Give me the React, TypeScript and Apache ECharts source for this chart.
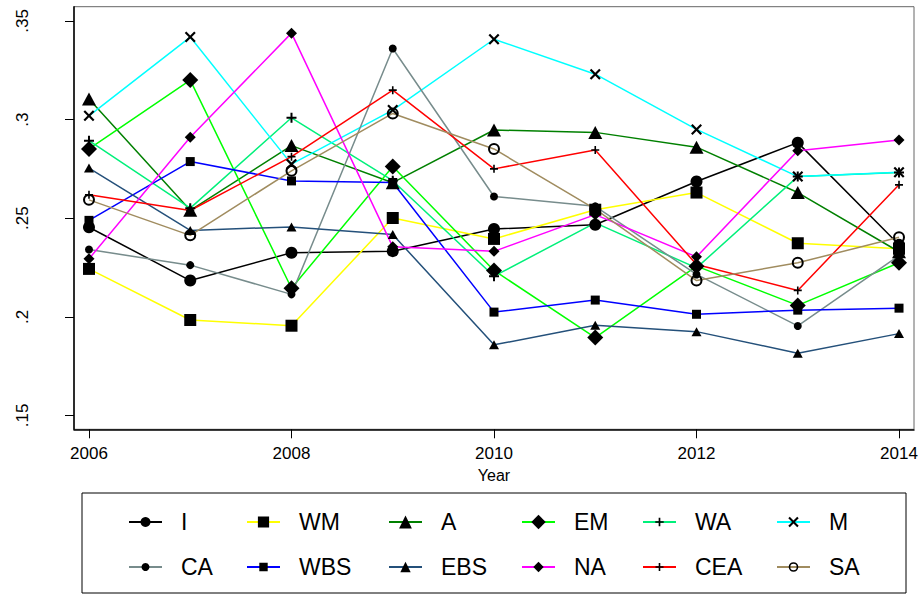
import React, { useEffect, useRef } from 'react';
import * as echarts from 'echarts';

// ---------- data ----------
const years = [2006, 2007, 2008, 2009, 2010, 2011, 2012, 2013, 2014];
const xTickValues = [2006, 2008, 2010, 2012, 2014];
const yTickValues = [0.15, 0.2, 0.25, 0.3, 0.35];
const yTickLabels = ['.15', '.2', '.25', '.3', '.35'];
const xAxisTitle = 'Year';

const seriesNames = ['I', 'WM', 'A', 'EM', 'WA', 'M', 'CA', 'WBS', 'EBS', 'NA', 'CEA', 'SA'];

const valuesI = [0.2454, 0.2184, 0.2325, 0.2333, 0.2445, 0.2467, 0.2686, 0.2883, 0.2365];
const valuesWM = [0.2243, 0.1984, 0.1955, 0.2501, 0.2395, 0.2543, 0.263, 0.2373, 0.2345];
const valuesA = [0.3104, 0.254, 0.2868, 0.268, 0.2947, 0.2935, 0.286, 0.263, 0.233];
const valuesEM = [0.2851, 0.32, 0.2145, 0.2762, 0.2235, 0.1895, 0.2257, 0.2058, 0.2274];
const valuesWA = [0.2893, 0.2551, 0.3009, 0.269, 0.2206, 0.2476, 0.2248, 0.2711, 0.2731];
const valuesM = [0.3019, 0.3418, 0.2774, 0.3048, 0.3407, 0.323, 0.295, 0.2711, 0.2733];
const valuesCA = [0.2341, 0.2262, 0.2114, 0.336, 0.261, 0.256, 0.2215, 0.1954, 0.231];
const valuesWBS = [0.2489, 0.2787, 0.2689, 0.2681, 0.2024, 0.2085, 0.2013, 0.2034, 0.2044];
const valuesEBS = [0.2754, 0.2438, 0.2456, 0.2417, 0.1858, 0.1957, 0.1925, 0.1816, 0.1915];
const valuesNA = [0.2294, 0.291, 0.3438, 0.2355, 0.2332, 0.2518, 0.2304, 0.2842, 0.2896];
const valuesCEA = [0.2619, 0.2539, 0.2812, 0.3149, 0.275, 0.2846, 0.2265, 0.2134, 0.2669];
const valuesSA = [0.2593, 0.2413, 0.274, 0.3031, 0.2851, 0.2546, 0.2184, 0.2274, 0.2403];

const allValues = [
  valuesI, valuesWM, valuesA, valuesEM, valuesWA, valuesM,
  valuesCA, valuesWBS, valuesEBS, valuesNA, valuesCEA, valuesSA,
];

// ---------- styles ----------
const PLUS = 'path://M4,0L6,0L6,4L10,4L10,6L6,6L6,10L4,10L4,6L0,6L0,4L4,4Z';
const CROSS = 'path://M0,1.4L1.4,0L5,3.6L8.6,0L10,1.4L6.4,5L10,8.6L8.6,10L5,6.4L1.4,10L0,8.6L3.6,5Z';
const RING = 'path://M5,0A5,5 0 1,0 5,10A5,5 0 1,0 5,0ZM5,1.7A3.3,3.3 0 1,1 5,8.3A3.3,3.3 0 1,1 5,1.7Z';

const lineColors = [
  '#000000', '#FFFF00', '#008000', '#00FF00', '#00F07A', '#00FFFF',
  '#778C8C', '#0000FF', '#24507A', '#FF00FF', '#FF0000', '#A08C5F',
];
const symbols = [
  'circle', 'rect', 'triangle', 'diamond', PLUS, CROSS,
  'circle', 'rect', 'triangle', 'diamond', PLUS, RING,
];
const symbolSizes: any[] = [12, 12, [14, 13], 16, 10, 11, 8, 9, [10, 9], 11, 8, 12];
const legendItemHeights = [12.5, 14, 16, 18, 10.5, 13, 10, 10.5, 13, 13, 10, 12];
const legendCols = [128, 246, 388, 521, 642, 776];
const legendRows = [521, 566];

const FONT = '"Liberation Sans", Arial, Helvetica, sans-serif';

export default function App() {
  const ref = useRef<HTMLDivElement>(null);

  useEffect(() => {
    if (!ref.current) return;
    const chart = echarts.init(ref.current, undefined, { renderer: 'svg' });

    const series = seriesNames.map((name, i) => ({
      name,
      type: 'line',
      data: years.map((y, j) => [y, allValues[i][j]]),
      symbol: symbols[i],
      symbolSize: symbolSizes[i],
      showSymbol: true,
      showAllSymbol: true,
      clip: false,
      lineStyle: { color: lineColors[i], width: 1.5 },
      itemStyle: { color: '#000000', borderWidth: 0 },
      emphasis: { disabled: true },
    }));

    const legend = seriesNames.map((name, i) => ({
      data: [name],
      left: legendCols[i % 6],
      top: legendRows[Math.floor(i / 6)] - 10.5,
      orient: 'horizontal',
      itemWidth: 33,
      itemHeight: legendItemHeights[i],
      padding: 0,
      itemGap: 0,
      selectedMode: false,
      lineStyle: { width: 2 },
      textStyle: { fontSize: 23, color: '#000', fontFamily: FONT, padding: [0, 0, 0, 14] },
    }));

    chart.setOption({
      animation: false,
      backgroundColor: '#ffffff',
      textStyle: { fontFamily: FONT },
      grid: {
        left: 74,
        right: 8,
        top: 6.7,
        bottom: 165.7,
        show: true,
        borderColor: '#666',
        borderWidth: 1,
        backgroundColor: '#fff',
        containLabel: false,
        outerBoundsMode: 'none',
      },
      xAxis: {
        type: 'value',
        min: 2005.852,
        max: 2014.148,
        name: xAxisTitle,
        nameLocation: 'middle',
        nameGap: 28,
        nameTextStyle: { fontSize: 16, color: '#000', fontFamily: FONT },
        axisLine: { show: true, lineStyle: { color: '#000', width: 1.5 } },
        axisTick: { show: true, customValues: xTickValues, length: 9, lineStyle: { color: '#000', width: 1 } },
        axisLabel: {
          show: true,
          customValues: xTickValues,
          margin: 16,
          fontSize: 17,
          color: '#000',
          fontFamily: FONT,
          formatter: (v: number) => String(Math.round(v)),
        },
        splitLine: { show: false },
      },
      yAxis: {
        type: 'value',
        min: 0.143,
        max: 0.3572,
        axisLine: { show: true, lineStyle: { color: '#000', width: 1.5 } },
        axisTick: { show: true, customValues: yTickValues, length: 9, lineStyle: { color: '#000', width: 1 } },
        axisLabel: {
          show: true,
          customValues: yTickValues,
          rotate: 90,
          margin: 43,
          fontSize: 17,
          color: '#000',
          fontFamily: FONT,
          formatter: (v: number) => {
            let best = 0;
            yTickValues.forEach((t, k) => {
              if (Math.abs(t - v) < Math.abs(yTickValues[best] - v)) best = k;
            });
            return yTickLabels[best];
          },
        },
        splitLine: { show: false },
      },
      legend,
      graphic: [
        {
          type: 'rect',
          shape: { x: 82, y: 493, width: 824, height: 100 },
          style: { fill: 'none', stroke: '#000', lineWidth: 1 },
          silent: true,
        },
      ],
      series,
    });

    return () => chart.dispose();
  }, []);

  return (
    <div
      ref={ref}
      style={{ position: 'absolute', left: 0, top: 0, width: 922, height: 595, background: '#fff' }}
    />
  );
}
